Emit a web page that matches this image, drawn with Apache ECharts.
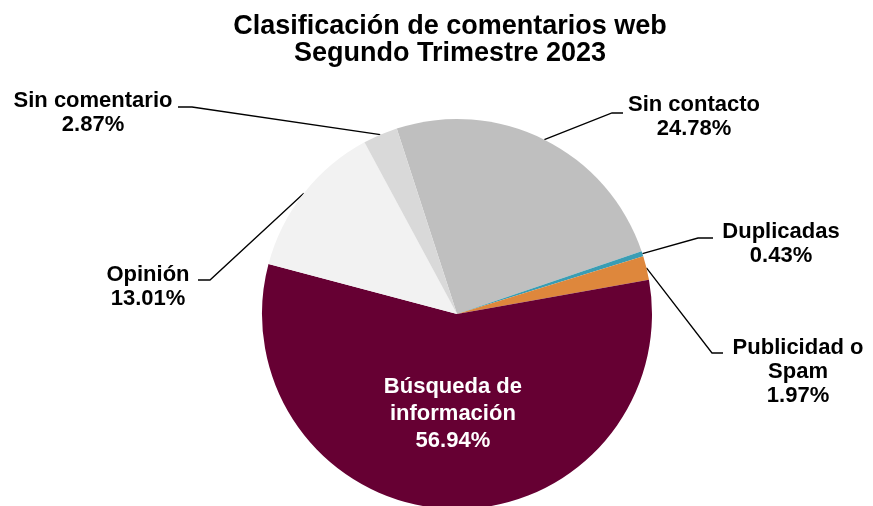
<!DOCTYPE html>
<html>
<head>
<meta charset="utf-8">
<script src="https://cdn.jsdelivr.net/npm/echarts@6/dist/echarts.min.js"></script>
<style>
  html, body { margin: 0; padding: 0; background: #fff; }
  #chartPie { width: 873px; height: 506px; }
</style>
</head>
<body>
<div id="chartPie"></div>
<script>
  // datos del gráfico
  const categories = ['Sin contacto', 'Duplicadas', 'Publicidad o Spam', 'Búsqueda de información', 'Opinión', 'Sin comentario']
  const labelNames = ['Sin contacto', 'Duplicadas', 'Publicidad o\nSpam', 'Búsqueda de\ninformación', 'Opinión', 'Sin comentario']
  const values = [24.78, 0.43, 1.97, 56.94, 13.01, 2.87]
  const colors = ['#bfbfbf', '#3a9db4', '#de873c', '#660033', '#f2f2f2', '#d9d9d9']

  // label centre + short horizontal stub of the leader line (null = inside label)
  const labelPos = [
    {x: 694, y: 117, stub: [[612, 113], [623, 113]]},
    {x: 781, y: 244, stub: [[698, 238], [713, 238]]},
    {x: 798, y: 372, stub: [[712, 353], [723, 353]]},
    null,
    {x: 148, y: 287, stub: [[210, 280], [198, 280]]},
    {x: 93, y: 113, stub: [[192, 107], [178, 107]]}
  ]

  const chartPie = echarts.init(document.getElementById('chartPie'))
  chartPie.setOption({
    animation: false,
    title: {
      text: 'Clasificación de comentarios web\nSegundo Trimestre 2023',
      left: 445,
      top: 8,
      textAlign: 'center',
      textStyle: {
        fontFamily: 'Liberation Sans, Arial, sans-serif',
        fontWeight: 'bold',
        fontSize: 27,
        lineHeight: 27,
        color: '#000'
      }
    },
    series: [{
      type: 'pie',
      center: [457, 314],
      radius: 195,
      startAngle: 108,
      clockwise: true,
      avoidLabelOverlap: false,
      label: {
        show: true,
        position: 'outside',
        fontFamily: 'Liberation Sans, Arial, sans-serif',
        fontWeight: 'bold',
        fontSize: 22,
        lineHeight: 24,
        color: '#000',
        align: 'center',
        formatter: function(p) {
          return labelNames[p.dataIndex] + '\n' + p.value.toFixed(2) + '%'
        }
      },
      labelLine: {
        show: true,
        lineStyle: {color: '#000', width: 1.3}
      },
      labelLayout: function(params) {
        const pos = labelPos[params.dataIndex]
        if (!pos) return {}
        const p0 = params.labelLinePoints ? params.labelLinePoints[0] : pos.stub[0]
        return {
          x: pos.x,
          y: pos.y,
          align: 'center',
          verticalAlign: 'middle',
          labelLinePoints: [p0, pos.stub[0], pos.stub[1]]
        }
      },
      data: categories.map(function(name, i) {
        const item = {
          name: name,
          value: values[i],
          itemStyle: {color: colors[i]}
        }
        if (i === 3) {
          item.label = {position: 'inside', color: '#fff', fontSize: 22, lineHeight: 27}
          item.labelLine = {show: false}
        }
        return item
      })
    }]
  })
</script>
</body>
</html>
